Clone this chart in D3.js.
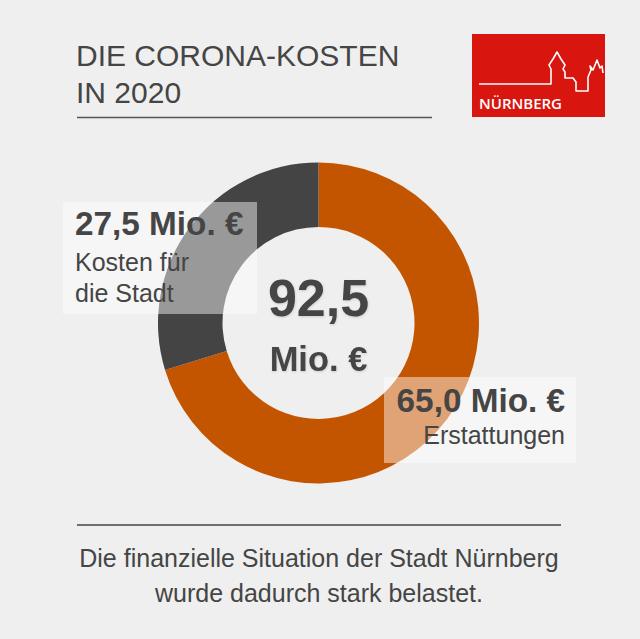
<!DOCTYPE html>
<html>
<head>
<meta charset="utf-8">
<script src="https://cdn.jsdelivr.net/npm/d3@7"></script>
<style>
  html, body { margin: 0; padding: 0; background: #efefef; }
  svg { display: block; font-family: "Liberation Sans", Arial, sans-serif; }
</style>
</head>
<body>
<svg id="chart" width="640" height="639"></svg>
<script>
// data
var categories = ['Erstattungen', 'Kosten für die Stadt'];
var values = [65.0, 27.5];
var colors = ['#c45500', '#444444'];
var valueLabels = ['65,0 Mio. €', '27,5 Mio. €'];
var totalLabel = ['92,5', 'Mio. €'];
var titleLines = ['DIE CORONA-KOSTEN', 'IN 2020'];
var footerLines = ['Die finanzielle Situation der Stadt Nürnberg', 'wurde dadurch stark belastet.'];

var textColor = '#454545';
var svg = d3.select('#chart');

svg.append('rect').attr('width', 640).attr('height', 639).attr('fill', '#efefef');

// soft shadow for the big numbers
var defs = svg.append('defs');
var f = defs.append('filter').attr('id', 'soft').attr('x', '-10%').attr('y', '-10%').attr('width', '120%').attr('height', '130%');
f.append('feDropShadow').attr('dx', 0.5).attr('dy', 1).attr('stdDeviation', 1)
  .attr('flood-color', '#000').attr('flood-opacity', 0.15);

// title
svg.selectAll('text.title')
  .data(titleLines)
  .enter().append('text')
  .attr('class', 'title')
  .attr('x', 76)
  .attr('y', function(d, i) { return 66 + i * 37; })
  .attr('font-size', 30)
  .attr('fill', textColor)
  .text(function(d) { return d; });

svg.append('line')
  .attr('x1', 77).attr('x2', 432)
  .attr('y1', 117.5).attr('y2', 117.5)
  .attr('stroke', '#555').attr('stroke-width', 1.6);

// logo
var logo = svg.append('g');
logo.append('rect')
  .attr('x', 472).attr('y', 34).attr('width', 133).attr('height', 83)
  .attr('fill', '#d8150f');
var skyline = [
  [479, 84], [551, 84], [551, 69], [549, 65], [553, 59], [557, 52], [561, 59], [565, 65], [563, 69],
  [565, 72], [565, 78], [573, 78], [576, 82], [576, 91], [588, 91], [588, 77], [591, 70],
  [590, 66], [593, 70], [597, 60], [600, 68], [602, 66], [603, 73]
];
logo.append('path')
  .attr('d', d3.line()(skyline))
  .attr('fill', 'none')
  .attr('stroke', '#fff')
  .attr('stroke-width', 1.6)
  .attr('stroke-linejoin', 'round');
logo.append('text')
  .attr('x', 479).attr('y', 108.5)
  .attr('font-family', '"Open Sans", sans-serif')
  .attr('font-size', 15)
  .attr('font-weight', 600)
  .attr('fill', '#fff')
  .attr('textLength', 83)
  .attr('lengthAdjust', 'spacingAndGlyphs')
  .text('NÜRNBERG');

// donut
var cx = 318.5, cy = 323;
var pie = d3.pie().sort(null).value(function(d) { return d; });
var arc = d3.arc().innerRadius(96).outerRadius(160.5);
var g = svg.append('g').attr('transform', 'translate(' + cx + ',' + cy + ')');
g.selectAll('path')
  .data(pie(values))
  .enter().append('path')
  .attr('d', arc)
  .attr('fill', function(d, i) { return colors[i]; });

// total in the middle
g.append('text')
  .attr('text-anchor', 'middle')
  .attr('y', 316 - cy)
  .attr('font-size', 52)
  .attr('font-weight', 'bold')
  .attr('fill', textColor)
  .attr('filter', 'url(#soft)')
  .text(totalLabel[0]);
g.append('text')
  .attr('text-anchor', 'middle')
  .attr('y', 371 - cy)
  .attr('font-size', 34.5)
  .attr('font-weight', 'bold')
  .attr('fill', textColor)
  .attr('filter', 'url(#soft)')
  .text(totalLabel[1]);

// label boxes
var boxes = [
  { x: 384, y: 377, w: 192, h: 86, anchor: 'end', tx: 565, lines: [valueLabels[0], 'Erstattungen'], base: [412, 444] },
  { x: 63, y: 202, w: 194, h: 112, anchor: 'start', tx: 75, lines: [valueLabels[1], 'Kosten für', 'die Stadt'], base: [235, 271, 302] }
];
boxes.forEach(function(b) {
  svg.append('rect')
    .attr('x', b.x).attr('y', b.y).attr('width', b.w).attr('height', b.h)
    .attr('fill', '#fff').attr('fill-opacity', 0.46);
  b.lines.forEach(function(t, i) {
    svg.append('text')
      .attr('x', b.tx).attr('y', b.base[i])
      .attr('text-anchor', b.anchor)
      .attr('font-size', i === 0 ? 33.3 : 25)
      .attr('font-weight', i === 0 ? 'bold' : 'normal')
      .attr('fill', textColor)
      .text(t);
  });
});

// footer
svg.append('line')
  .attr('x1', 77).attr('x2', 561)
  .attr('y1', 525).attr('y2', 525)
  .attr('stroke', '#444').attr('stroke-width', 1.6);
svg.selectAll('text.footer')
  .data(footerLines)
  .enter().append('text')
  .attr('class', 'footer')
  .attr('x', 319)
  .attr('y', function(d, i) { return 567 + i * 35; })
  .attr('text-anchor', 'middle')
  .attr('font-size', 25)
  .attr('fill', textColor)
  .text(function(d) { return d; });
</script>
</body>
</html>
